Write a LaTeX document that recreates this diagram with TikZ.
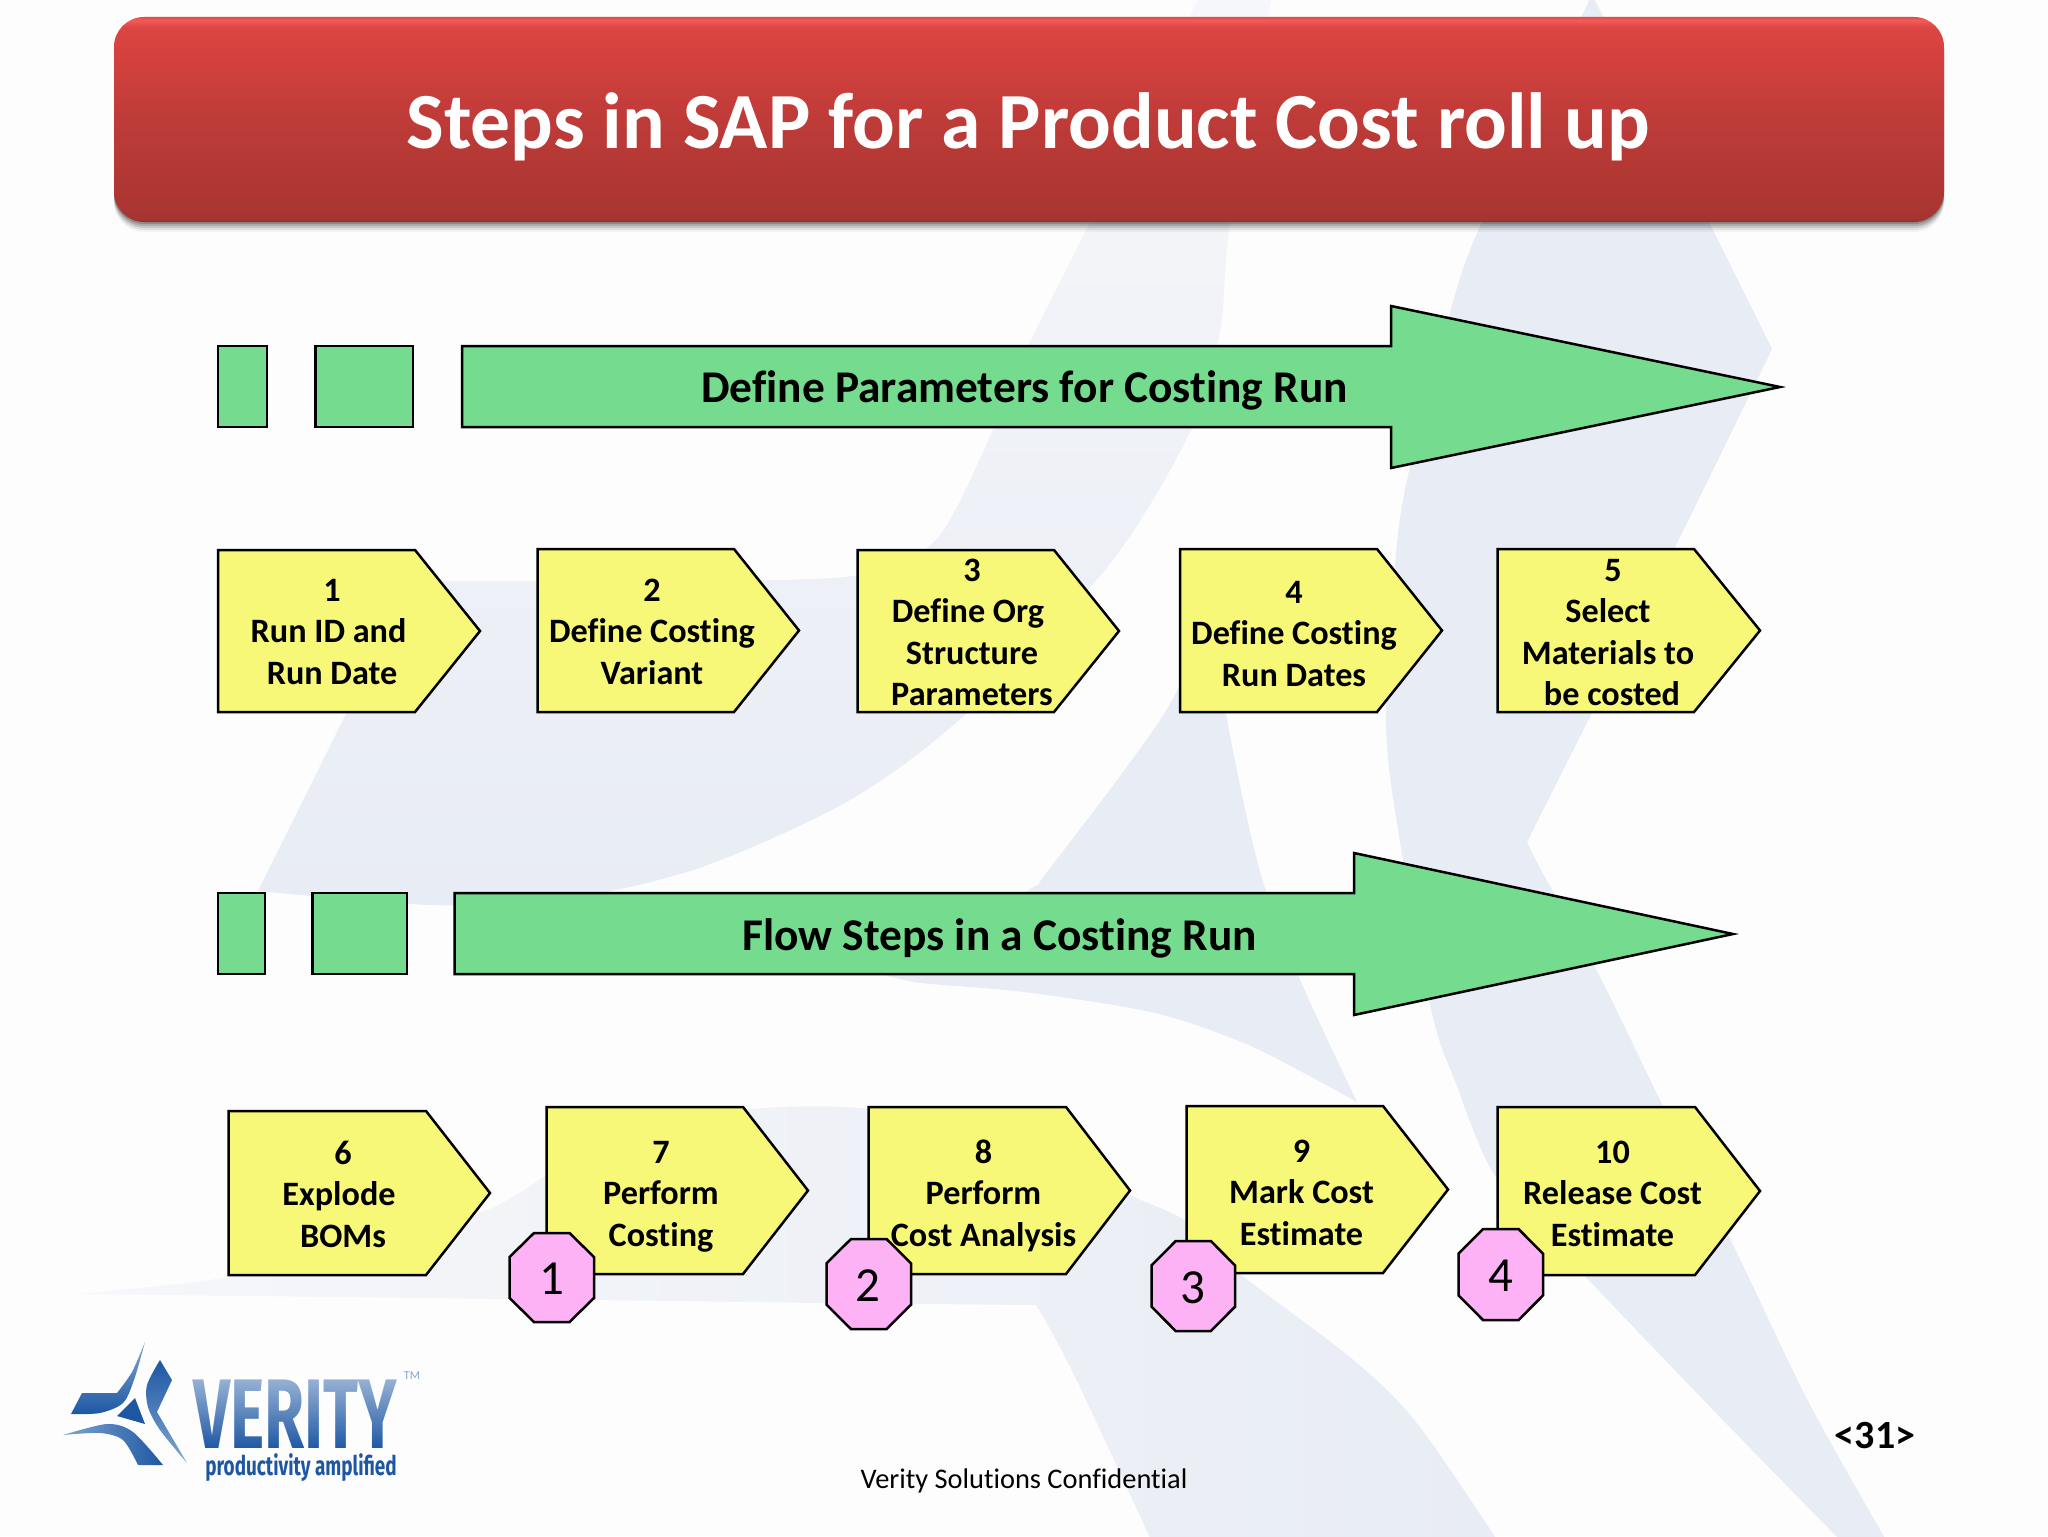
\documentclass[tikz,border=0pt]{standalone}
\usepackage{graphicx}
\usepackage{fontspec}
\setmainfont{Carlito}[Ligatures=NoCommon]
\newfontfamily\logofont{Fira Sans}
\usetikzlibrary{fadings}
\definecolor{pagebg}{HTML}{FEFDFE}
\definecolor{wmark}{HTML}{E8ECF4}
\definecolor{wmpale}{HTML}{F6F7FA}
\definecolor{barg}{HTML}{75DC8F}
\definecolor{stepy}{HTML}{F8F878}
\definecolor{octp}{HTML}{FDB2F5}
\definecolor{logob}{HTML}{1D57A3}
\definecolor{logol}{HTML}{7FA6D2}
\definecolor{tga}{RGB}{142,47,44}
\definecolor{tgb}{RGB}{165,53,49}
\definecolor{tgc}{RGB}{172,54,50}
\definecolor{tgd}{RGB}{190,59,56}
\definecolor{tge}{RGB}{216,66,63}
\definecolor{tgf}{RGB}{220,69,65}
\definecolor{tgg}{RGB}{242,92,88}
\definecolor{tgh}{RGB}{226,74,70}
\pgfdeclareverticalshading{titlegrad}{100bp}{
 color(0bp)=(tga);
 color(25bp)=(tga);
 color(25.8bp)=(tgb);
 color(30bp)=(tgc);
 color(50bp)=(tgd);
 color(68bp)=(tge);
 color(72.5bp)=(tgf);
 color(74.2bp)=(tgg);
 color(75bp)=(tgh);
 color(100bp)=(tgh)}
\tikzset{
 x=0.5pt,y=-0.5pt,
 wm/.style={fill=wmark},
 outl/.style={draw=black,line width=1.25pt,line join=miter,miter limit=10},
 barshape/.style={outl,fill=barg},
 stepshape/.style={outl,fill=stepy},
 octshape/.style={outl,fill=octp},
 steptext/.style={align=center,inner sep=0pt,font=\fontsize{17.1}{20.75}\selectfont\bfseries},
 bartext/.style={anchor=base,inner sep=0pt,font=\fontsize{22.7}{27}\selectfont\bfseries},
 octtext/.style={anchor=base,inner sep=0pt,font=\fontsize{24.5}{30}\selectfont},
 blade/.style={top color=logol,bottom color=logob},
}
% name, x0, x1, x2, y0, y1, text centre x, first baseline, number of lines, text
\newcommand\steppent[9]{%
 \pgfmathsetmacro\ymid{(#5+#6)/2}%
 \draw[stepshape] (#2,#5) -- (#3,#5) -- (#4,\ymid) -- (#3,#6) -- (#2,#6) -- cycle;%
 \stepnodetail{#1}{#7}{#8}{#9}}
\newcommand\stepnodetail[4]{\def\stepname{#1}\def\stepcx{#2}\def\stepbase{#3}\def\stepn{#4}\stepcontent}
\newcommand\stepcontent[1]{%
 \pgfmathsetmacro\cy{\stepbase+1.3+(\stepn/2-0.7)*41.5}%
 \node[steptext] (\stepname) at (\stepcx,\cy) {#1};}
\newcommand\octa[7]{%
 \pgfmathsetmacro\xa{#2+0.29*(#3-#2)}\pgfmathsetmacro\xb{#3-0.29*(#3-#2)}%
 \pgfmathsetmacro\ya{#4+0.27*(#5-#4)}\pgfmathsetmacro\yb{#5-0.27*(#5-#4)}%
 \draw[octshape] (\xa,#4) -- (\xb,#4) -- (#3,\ya) -- (#3,\yb) -- (\xb,#5) -- (\xa,#5) -- (#2,\yb) -- (#2,\ya) -- cycle;%
 \node[octtext] (#1) at (#6) {#7};}
\begin{document}
\begin{tikzpicture}
\useasboundingbox (0,0) rectangle (2048,1536);
\fill[pagebg] (0,0) rectangle (2048,1536);
% watermark
\shade[top color=wmpale,middle color=wmark,bottom color=wmark] plot[smooth] coordinates {(1200,-5) (1089,224) (1024,354) (993,430) (940,535) (880,570) (780,580) (412,581)}
 -- plot[smooth] coordinates {(258,891) (430,905) (560,900) (699,868) (850,800) (967,713) (1109,565) (1190,432) (1220,332) (1230,224) (1272,-5)} -- cycle;
\fill[wm] plot[smooth] coordinates {(885,975) (1024,893) (1050,868) (1164,714) (1213,610)}
 -- plot[smooth] coordinates {(1213,610) (1226,714) (1259,868) (1298,975) (1357,1102)}
 -- plot[smooth] coordinates {(1357,1102) (1253,1047) (1155,1013) (1024,992) (921,983) (885,975)} -- cycle;
\fill[wm] (1592,-5) -- (1710,224) -- (1772,349) -- plot[smooth] coordinates {(1772,349) (1677,543) (1527,842)}
 -- plot[smooth] coordinates {(1527,842) (1540,868) (1599,975) (1661,1102) (1736,1251) (1808,1401) (1886,1540)}
 -- (1840,1540) -- plot[smooth] coordinates {(1840,1540) (1716,1413) (1586,1277) (1497,1179) (1455,1081) (1432,1013) (1398,830) (1386,720) (1396,554) (1409,471) (1449,316) (1481,224) (1592,-5)} -- cycle;
\shade[left color=wmpale,middle color=wmark,right color=wmark] plot[smooth] coordinates {(78,1294) (229,1277) (350,1245) (490,1209) (620,1130) (751,1109) (869,1109) (1010,1140) (1132,1196) (1187,1222) (1239,1273) (1351,1358) (1416,1422) (1497,1540)}
 -- plot[smooth] coordinates {(1151,1540) (1076,1379) (1037,1307) (1024,1305) (826,1303) (594,1300) (78,1294)} -- cycle;
% title
\foreach \d/\o in {2/0.18,4/0.14,6/0.10,8/0.07,10/0.04}{
 \fill[black,opacity=\o,rounded corners=15pt] (114,17+\d) rectangle (1944,222+\d);}
\shade[shading=titlegrad,rounded corners=15pt] (114,17) rectangle (1944,222);
\node[anchor=base,inner sep=0pt,text=white,font=\fontsize{39.8}{46}\selectfont\bfseries] (title) at (1028,148.5) {Steps in SAP for a Product Cost roll up};
% bars 1
\draw[barshape] (218,346) rectangle (267,427);
\draw[barshape] (315.5,346) rectangle (413,427);
\draw[barshape] (462,346) -- (1391,346) -- (1391,306) -- (1780,387) -- (1391,468) -- (1391,427) -- (462,427) -- cycle;
\node[bartext] (bar1) at (1024.5,402) {Define Parameters for Costing Run};
% steps 1
\steppent{s1}{218}{415}{480}{550}{712}{332}{600}{3}{\strut 1\\\strut Run ID and\kern3.5pt\\\strut Run Date}
\steppent{s2}{537.5}{734}{799}{549}{712}{652}{600}{3}{\strut 2\\\strut Define Costing\\\strut Variant}
\steppent{s3}{857.5}{1054}{1119}{550}{712}{972}{580}{4}{\strut 3\\\strut Define Org\kern4pt\\\strut Structure\\\strut Parameters}
\steppent{s4}{1180}{1377}{1442}{549}{712}{1294}{602}{3}{\strut 4\\\strut Define Costing\\\strut Run Dates}
\steppent{s5}{1497.5}{1694}{1760}{549}{712}{1612}{580}{4}{\strut 5\kern-1pt\\\strut Select\kern4pt\\\strut Materials to\kern4pt\\\strut be costed}
% bars 2
\draw[barshape] (218,893) rectangle (265,974);
\draw[barshape] (312.5,893) rectangle (407,974);
\draw[barshape] (454.5,893) -- (1354,893) -- (1354,853) -- (1733,934) -- (1354,1015) -- (1354,974) -- (454.5,974) -- cycle;
\node[bartext] (bar2) at (999.5,950) {Flow Steps in a Costing Run};
% steps 2
\steppent{s6}{228.5}{426}{490}{1111}{1275}{343}{1163}{3}{\strut 6\\\strut Explode\kern4pt\\\strut BOMs}
\steppent{s7}{546.5}{743}{808}{1107}{1274}{661}{1162}{3}{\strut 7\\\strut Perform\\\strut Costing}
\steppent{s8}{868.5}{1066}{1130}{1107}{1274}{983.5}{1162}{3}{\strut 8\\\strut Perform\\\strut Cost Analysis}
\steppent{s9}{1186.5}{1383}{1448}{1106}{1273}{1301.5}{1161}{3}{\strut 9\\\strut Mark Cost\\\strut Estimate}
\steppent{s10}{1497.5}{1695}{1760}{1107}{1275}{1612.5}{1162}{3}{\strut 10\\\strut Release Cost\\\strut Estimate}
% octagons
\octa{o1}{509.5}{594}{1233}{1322}{552,1294}{1}
\octa{o2}{826.5}{911}{1239}{1329}{868,1301}{2}
\octa{o3}{1151.5}{1235}{1241}{1331}{1193,1303}{3}
\octa{o4}{1458.5}{1543}{1229}{1320}{1501,1291}{4}
% logo
\shade[blade] plot[smooth] coordinates {(145,1342) (132,1372) (117,1393)} -- (82,1393) -- (71,1414) -- plot[smooth] coordinates {(71,1414) (100,1413) (123,1403) (134,1380) (145,1342)} -- cycle;
\shade[top color=logob,bottom color=logol] (160,1360) -- (172,1380) -- (157,1412) -- (187,1463) -- plot[smooth] coordinates {(187,1463) (160,1430) (148,1407) (147,1385) (160,1360)} -- cycle;
\fill[logob] (135,1398) -- (117,1416) -- (145,1424) -- cycle;
\shade[left color=logol,right color=logob] (63,1435) -- plot[smooth] coordinates {(63,1435) (107,1424) (133,1432) (163,1465)} -- (138,1465) -- plot[smooth] coordinates {(138,1465) (123,1440) (100,1433) (63,1435)} -- cycle;
\node[anchor=base west,inner sep=0pt,text=logob] (logo) at (193,1448) {\scalebox{0.656}[1]{\fontsize{49.5}{50}\logofont\bfseries VERITY}};
\fill[white,path fading=south,opacity=0.55] (190,1378) rectangle (402,1450);
\node[anchor=base,inner sep=0pt,text=logol,font=\fontsize{6}{7}\selectfont] (tm) at (412,1379) {TM};
\node[anchor=base west,inner sep=0pt,text=logob] (tag) at (205,1475) {\scalebox{0.7}[1]{\fontsize{13.5}{14}\logofont\bfseries productivity amplified}};
% footer
\node[anchor=base,inner sep=0pt,font=\fontsize{14.2}{17}\selectfont] (foot) at (1024,1488) {Verity Solutions Confidential};
\node[anchor=base,inner sep=0pt,font=\fontsize{20}{24}\selectfont\bfseries] (page) at (1875,1448.5) {<31>};
\end{tikzpicture}
\end{document}
